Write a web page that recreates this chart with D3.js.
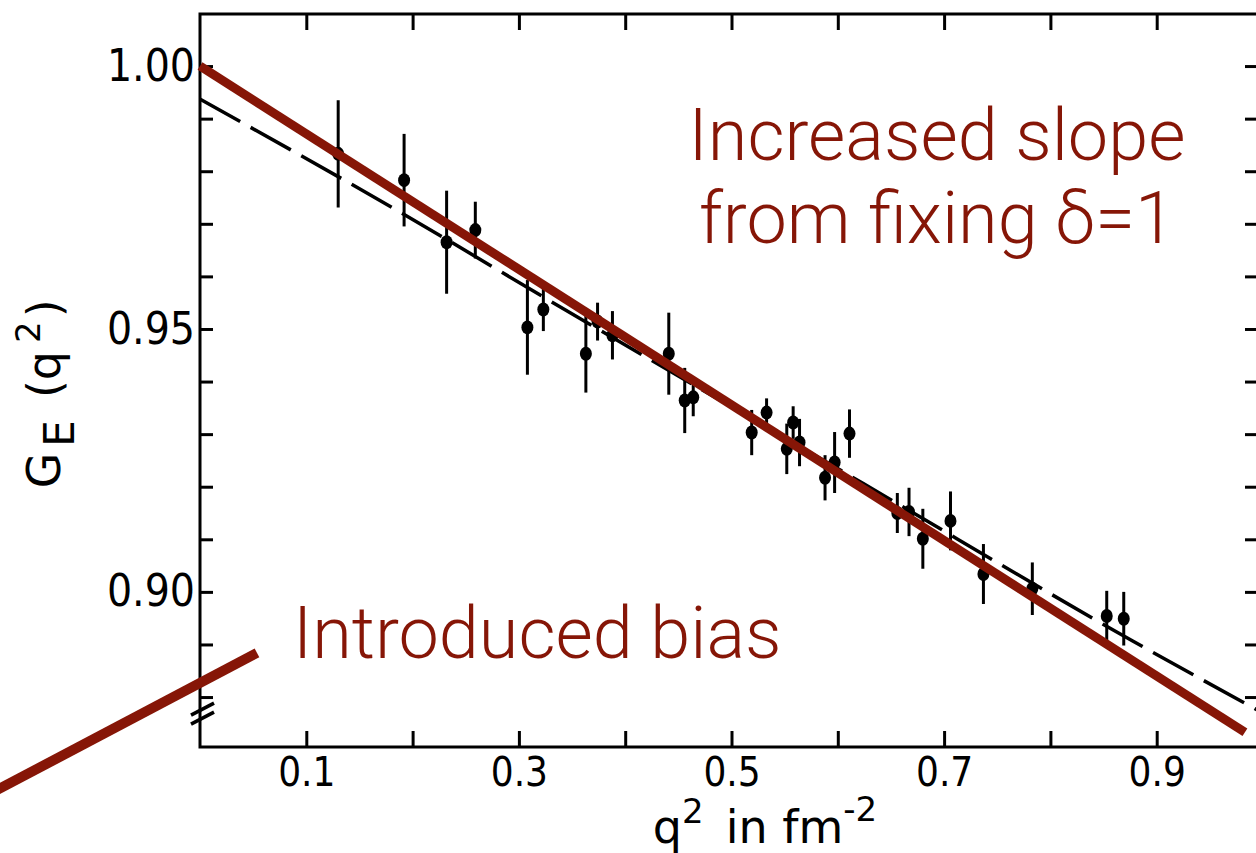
<!DOCTYPE html>
<html>
<head>
<meta charset="utf-8">
<script src="https://cdn.jsdelivr.net/npm/d3@7"></script>
<style>
  html, body { margin: 0; padding: 0; background: #fff; overflow: hidden; }
  .axis text { font-family: "Liberation Sans Narrow", "DejaVu Sans Condensed", "DejaVu Sans", sans-serif; fill: #000; }
  .note { font-family: Roboto, "Helvetica Neue", sans-serif; font-weight: 300; fill: #861607; }
</style>
</head>
<body>
<div id="d3-container"></div>
<script>
const width = 1256,
  height = 853,
  margin = { top: 14, bottom: 106, left: 200, right: -7 },
  red = "#861607";

// measured points: q^2 (fm^-2), G_E and half error bar
const q2 = [0.130, 0.192, 0.232, 0.259, 0.308, 0.323, 0.363, 0.374, 0.388, 0.441,
  0.456, 0.464, 0.519, 0.533, 0.552, 0.558, 0.564, 0.588, 0.597, 0.611,
  0.656, 0.667, 0.680, 0.706, 0.737, 0.783, 0.853, 0.869];
const ge = [0.9833, 0.9783, 0.9665, 0.9688, 0.9503, 0.9537, 0.9453, 0.9514, 0.9488, 0.9453,
  0.9364, 0.9370, 0.9303, 0.9341, 0.9272, 0.9322, 0.9284, 0.9217, 0.9246, 0.9301,
  0.9150, 0.9152, 0.9101, 0.9135, 0.9034, 0.9006, 0.8954, 0.8949];
const geErr = [0.0102, 0.0088, 0.0098, 0.0054, 0.0090, 0.0041, 0.0074, 0.0036, 0.0046, 0.0078,
  0.0062, 0.0036, 0.0043, 0.0027, 0.0048, 0.0031, 0.0045, 0.0043, 0.0058, 0.0046,
  0.0038, 0.0046, 0.0057, 0.0056, 0.0057, 0.0050, 0.0048, 0.0051];

// original fit curve (dashed)
const fitQ2 = [0, 0.185, 0.343, 0.624, 0.877, 0.995];
const fitGe = [0.9937, 0.9726, 0.9537, 0.9206, 0.8907, 0.8775];

// fit with delta fixed to 1 (red)
const fixedQ2 = [0, 0.983];
const fixedGe = [1.0, 0.8733];

// "introduced bias" pointer
const biasQ2 = [-0.193, 0.0536];
const biasGe = [0.8621, 0.8884];

// ticks
const xTicks = [0.1, 0.2, 0.3, 0.4, 0.5, 0.6, 0.7, 0.8, 0.9];
const xTickLabels = { 0.1: "0.1", 0.3: "0.3", 0.5: "0.5", 0.7: "0.7", 0.9: "0.9" };
const yTicks = [0.88, 0.89, 0.90, 0.91, 0.92, 0.93, 0.94, 0.95, 0.96, 0.97, 0.98, 0.99, 1.00];
const yTickLabels = { "0.9": "0.90", "0.95": "0.95", "1": "1.00" };

const xScale = d3.scaleLinear().domain([0, 1]).range([margin.left, width - margin.right]);
const yScale = d3.scaleLinear().domain([0.8705, 1.0099]).range([height - margin.bottom, margin.top]);

const svg = d3.select("#d3-container")
  .append("svg")
  .attr("width", width)
  .attr("height", height);

// frame
svg.append("rect")
  .attr("x", xScale(0))
  .attr("y", yScale(1.0099))
  .attr("width", xScale(1) - xScale(0))
  .attr("height", yScale(0.8705) - yScale(1.0099))
  .attr("fill", "none")
  .attr("stroke", "#000")
  .attr("stroke-width", 3);

// axes, ticks pointing inward
const fmtY = d => yTickLabels[String(+d.toFixed(2))] || "";
const fmtX = d => xTickLabels[String(+d.toFixed(1))] || "";

svg.append("g")
  .attr("class", "axis y-axis")
  .attr("transform", `translate(${xScale(0)},0)`)
  .call(d3.axisLeft(yScale).tickValues(yTicks).tickSize(-13).tickSizeOuter(0).tickPadding(5).tickFormat(fmtY));

svg.append("g")
  .attr("class", "axis y-axis-right")
  .attr("transform", `translate(${xScale(1)},0)`)
  .call(d3.axisRight(yScale).tickValues(yTicks).tickSize(-18).tickSizeOuter(0).tickFormat(""));

svg.append("g")
  .attr("class", "axis x-axis")
  .attr("transform", `translate(0,${yScale(0.8705)})`)
  .call(d3.axisBottom(xScale).tickValues(xTicks).tickSize(-16).tickSizeOuter(0).tickPadding(11).tickFormat(fmtX));

svg.append("g")
  .attr("class", "axis x-axis-top")
  .attr("transform", `translate(0,${yScale(1.0099)})`)
  .call(d3.axisTop(xScale).tickValues(xTicks).tickSize(-16).tickSizeOuter(0).tickFormat(""));

svg.selectAll(".axis .domain").remove();
svg.selectAll(".axis line").attr("stroke", "#000").attr("stroke-width", 3);
svg.selectAll(".y-axis text").attr("font-size", 44);
svg.selectAll(".x-axis text").attr("font-size", 40);

// axis break marks
[0.8777, 0.8760].forEach(v => {
  svg.append("line")
    .attr("x1", xScale(0) - 9).attr("y1", yScale(v) + 6)
    .attr("x2", xScale(0) + 14).attr("y2", yScale(v) - 6)
    .attr("stroke", "#000")
    .attr("stroke-width", 3.5);
});

// axis titles
const yTitle = svg.append("text")
  .attr("class", "axis")
  .attr("transform", `translate(60,${yScale(0.9197)}) rotate(-90)`)
  .attr("font-family", "'DejaVu Sans', sans-serif")
  .attr("font-size", 46);
yTitle.append("tspan").text("G");
yTitle.append("tspan").attr("dy", 14).attr("dx", 6).attr("font-size", 42).text("E");
yTitle.append("tspan").attr("dy", -14).attr("dx", 22).text("(q");
yTitle.append("tspan").attr("dy", -20).attr("dx", 8).attr("font-size", 34).text("2");
yTitle.append("tspan").attr("dy", 20).attr("dx", 4).text(")");

const xTitle = svg.append("text")
  .attr("class", "axis")
  .attr("x", xScale(0.426))
  .attr("y", 843)
  .attr("font-family", "'DejaVu Sans', sans-serif")
  .attr("font-size", 46);
xTitle.append("tspan").text("q");
xTitle.append("tspan").attr("dy", -20).attr("font-size", 34).text("2");
xTitle.append("tspan").attr("dy", 20).attr("dx", 22).text("in fm");
xTitle.append("tspan").attr("dy", -22).attr("font-size", 34).text("-2");

// dashed fit curve
const fitLine = d3.line()
  .x(i => xScale(fitQ2[i]))
  .y(i => yScale(fitGe[i]))
  .curve(d3.curveMonotoneX);

svg.append("path")
  .attr("d", fitLine(d3.range(fitQ2.length)))
  .attr("fill", "none")
  .attr("stroke", "#000")
  .attr("stroke-width", 3.5)
  .attr("stroke-dasharray", "46,12");

// data points with error bars
const pts = svg.selectAll(".dot")
  .data(d3.range(q2.length))
  .join("g")
  .attr("class", "dot");

pts.append("line")
  .attr("x1", i => xScale(q2[i]))
  .attr("x2", i => xScale(q2[i]))
  .attr("y1", i => yScale(ge[i] - geErr[i]))
  .attr("y2", i => yScale(ge[i] + geErr[i]))
  .attr("stroke", "#000")
  .attr("stroke-width", 3);

pts.append("ellipse")
  .attr("cx", i => xScale(q2[i]))
  .attr("cy", i => yScale(ge[i]))
  .attr("rx", 6)
  .attr("ry", 7)
  .attr("fill", "#000");

// red lines
const straight = (xs, ys) => d3.line()(xs.map((q, i) => [xScale(q), yScale(ys[i])]));

svg.append("path")
  .attr("d", straight(fixedQ2, fixedGe))
  .attr("stroke", red)
  .attr("stroke-width", 9)
  .attr("fill", "none");

svg.append("path")
  .attr("d", straight(biasQ2, biasGe))
  .attr("stroke", red)
  .attr("stroke-width", 10)
  .attr("fill", "none");

// annotations
svg.append("text")
  .attr("class", "note")
  .attr("x", 937).attr("y", 160)
  .attr("text-anchor", "middle")
  .attr("font-size", 72)
  .text("Increased slope");

svg.append("text")
  .attr("class", "note")
  .attr("x", 937).attr("y", 243)
  .attr("text-anchor", "middle")
  .attr("font-size", 72)
  .text("from fixing δ=1");

svg.append("text")
  .attr("class", "note")
  .attr("x", 293).attr("y", 658)
  .attr("font-size", 72)
  .text("Introduced bias");
</script>
</body>
</html>
